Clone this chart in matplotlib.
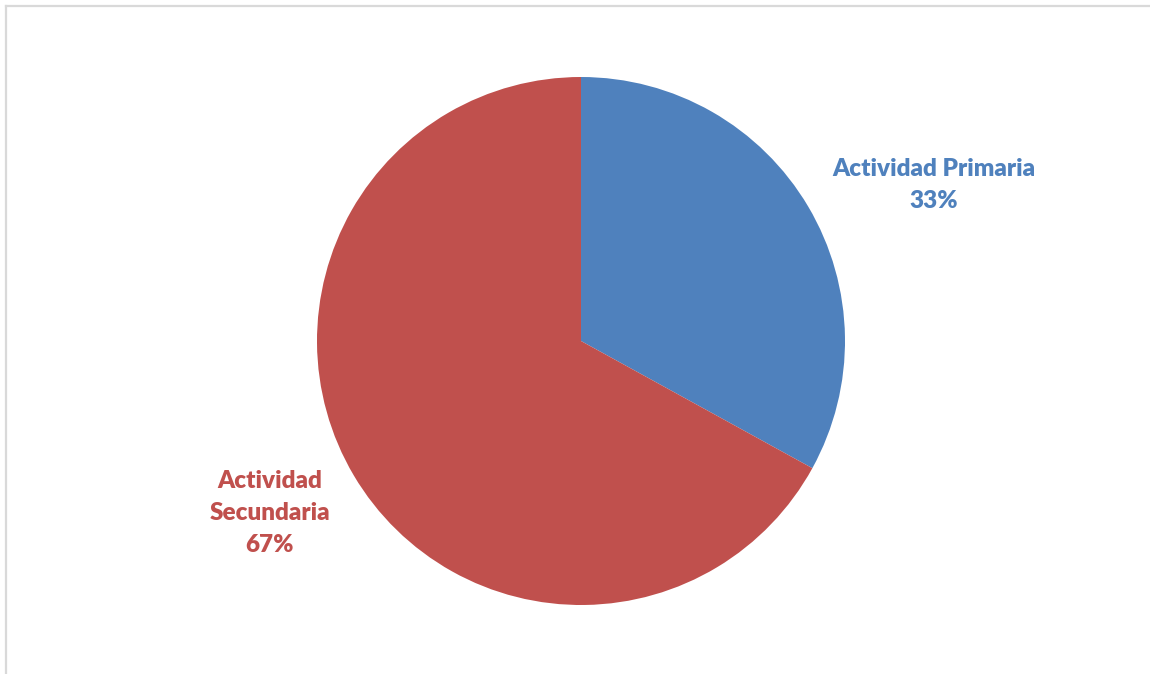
import matplotlib
matplotlib.use("Agg")
import matplotlib.pyplot as plt
from matplotlib.lines import Line2D

categories = ["Actividad Primaria", "Actividad Secundaria"]
values = [33, 67]
pct_labels = ["33%", "67%"]
colors = ["#4F81BD", "#C0504D"]

W, H = 1150, 674
fig = plt.figure(figsize=(W / 100, H / 100), dpi=100)
fig.patch.set_facecolor("white")

# outer frame (top and left visible)
fig.add_artist(Line2D([6 / W, 1.0], [1 - 6 / H, 1 - 6 / H], color="#d9d9d9", lw=1.6, transform=fig.transFigure))
fig.add_artist(Line2D([6 / W, 6 / W], [0, 1 - 6 / H], color="#d9d9d9", lw=1.6, transform=fig.transFigure))

cx, cy, r = 581, 341, 264
ax = fig.add_axes([(cx - r) / W, (H - cy - r) / H, 2 * r / W, 2 * r / H])
ax.pie(values, colors=colors, startangle=90, counterclock=False,
       wedgeprops=dict(linewidth=0))
ax.set_xlim(-1, 1)
ax.set_ylim(-1, 1)
ax.set_aspect("equal")
ax.axis("off")

font = "Lato"
lab1 = categories[0] + "\n" + pct_labels[0]
lab2 = "Actividad\nSecundaria" + "\n" + pct_labels[1]
fig.text(934 / W, 1 - 185 / H, lab1, color=colors[0], fontsize=17.5, fontweight="heavy",
         family=font, ha="center", va="center", linespacing=1.58)
fig.text(270 / W, 1 - 513 / H, lab2, color=colors[1], fontsize=17.5, fontweight="heavy",
         family=font, ha="center", va="center", linespacing=1.55)

fig.savefig("out.png", dpi=100, facecolor="white")
